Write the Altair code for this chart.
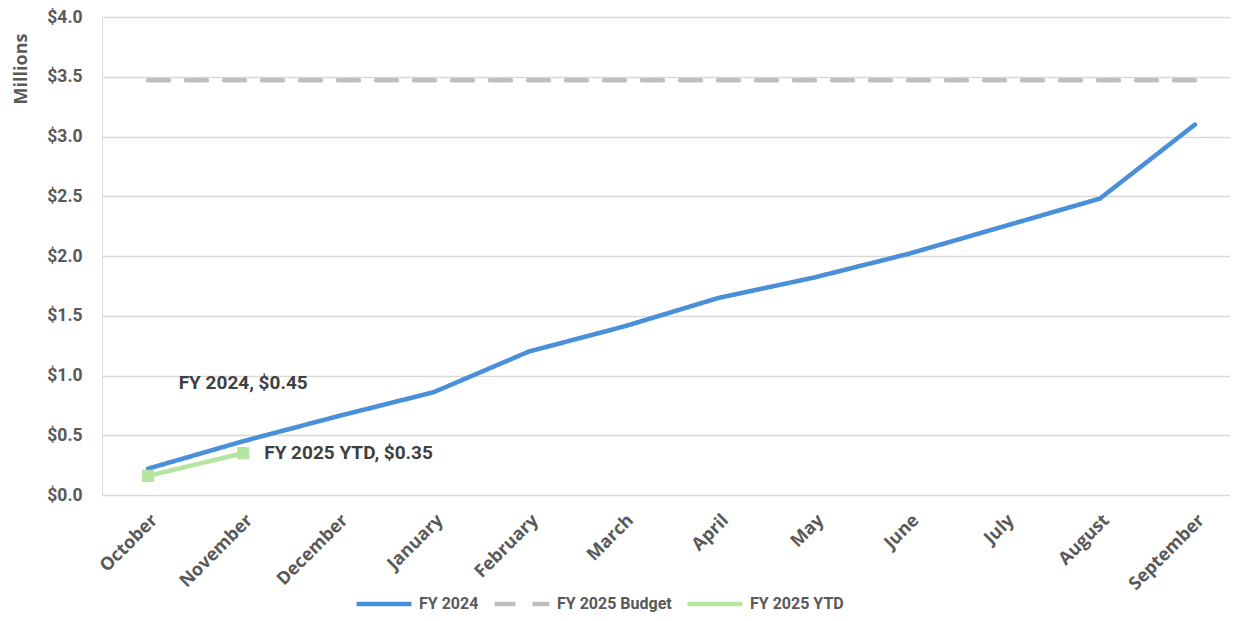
import altair as alt
import pandas as pd

months = ["October", "November", "December", "January", "February", "March",
          "April", "May", "June", "July", "August", "September"]
fy2024 = [0.22, 0.45, 0.66, 0.86, 1.20, 1.41, 1.65, 1.82, 2.02, 2.25, 2.48, 3.10]
budget = [3.47] * 12
ytd_months = ["October", "November"]
ytd = [0.16, 0.35]

series_names = ["FY 2024", "FY 2025 Budget", "FY 2025 YTD"]
series_colors = ["#4A90D9", "#BFBFBF", "#B5E5A0"]

rows = []
for m, v in zip(months, fy2024):
    rows.append({"month": m, "value": v, "series": "FY 2024"})
for m, v in zip(months, budget):
    rows.append({"month": m, "value": v, "series": "FY 2025 Budget"})
for m, v in zip(ytd_months, ytd):
    rows.append({"month": m, "value": v, "series": "FY 2025 YTD"})
df = pd.DataFrame(rows)

label_df = pd.DataFrame([
    {"month": "November", "value": 0.45, "series": "FY 2024", "label": "FY 2024, $0.45"},
    {"month": "November", "value": 0.35, "series": "FY 2025 YTD", "label": "FY 2025 YTD, $0.35"},
])

FONT = "Roboto"
XFONT = "Open Sans"

x_enc = alt.X("month:N", sort=months, title=None,
              scale=alt.Scale(type="point", padding=0.4256, align=0.568),
              axis=alt.Axis(labelAngle=-45, labelAlign="right", labelBaseline="top",
                            labelFont=XFONT, labelFontWeight="bold", labelFontSize=18,
                            labelColor="#595959", labelPadding=16, domain=False, ticks=False,
                            grid=False, labelOverlap=False))
y_scale = alt.Scale(domain=[0, 4], nice=False)
y_enc = alt.Y("value:Q", scale=y_scale, title="Millions",
              axis=alt.Axis(values=[0, 0.5, 1, 1.5, 2, 2.5, 3, 3.5, 4], format="$.1f",
                            labelFont=FONT, labelFontWeight="bold", labelFontSize=17.5,
                            labelColor="#595959", labelPadding=20, domain=False, ticks=False,
                            gridColor="#D9D9D9", gridWidth=1.5,
                            titleFont=XFONT, titleFontWeight="bold", titleFontSize=18,
                            titleColor="#595959", titleAnchor="end", titleY=16,
                            titlePadding=16))

color_scale = alt.Scale(domain=series_names, range=series_colors)
dash_scale = alt.Scale(domain=series_names, range=[[1, 0], [21, 17], [1, 0]])

lines = alt.Chart(df).mark_line(strokeWidth=4.5, strokeCap="round").encode(
    x=x_enc,
    y=y_enc,
    color=alt.Color("series:N", scale=color_scale, sort=series_names,
                    legend=alt.Legend(title=None, orient="none", direction="horizontal",
                                      legendX=252, legendY=557,
                                      symbolType="stroke", symbolSize=3025,
                                      symbolStrokeWidth=4.5,
                                      labelFont=FONT, labelFontWeight="bold",
                                      labelFontSize=16, labelColor="#595959",
                                      labelOffset=5, columnPadding=6)),
    strokeDash=alt.StrokeDash("series:N", scale=dash_scale, sort=series_names, legend=None),
    detail="series:N",
)

points = alt.Chart(df).transform_filter(
    alt.datum.series == "FY 2025 YTD"
).mark_square(size=150, opacity=1, color="#B5E5A0", filled=True).encode(
    x=alt.X("month:N", sort=months),
    y=alt.Y("value:Q"),
)

lbl_2024 = alt.Chart(label_df).transform_filter(
    alt.datum.series == "FY 2024"
).mark_text(font=FONT, fontWeight="bold", fontSize=19, color="#404040",
            align="center", baseline="middle", dy=-58).encode(
    x=alt.X("month:N", sort=months),
    y=alt.Y("value:Q"),
    text="label:N",
)

lbl_ytd = alt.Chart(label_df).transform_filter(
    alt.datum.series == "FY 2025 YTD"
).mark_text(font=FONT, fontWeight="bold", fontSize=19, color="#404040",
            align="left", baseline="middle", dx=21).encode(
    x=alt.X("month:N", sort=months),
    y=alt.Y("value:Q"),
    text="label:N",
)

chart = alt.layer(lines, points, lbl_2024, lbl_ytd).properties(
    width=1128, height=478,
    autosize=alt.AutoSizeParams(type="none"),
    padding={"left": 94, "top": 9, "right": 0, "bottom": 120},
).configure_view(stroke=None).configure(background="white")

chart.save("out.html", embed_options={"renderer": "svg", "actions": False})
